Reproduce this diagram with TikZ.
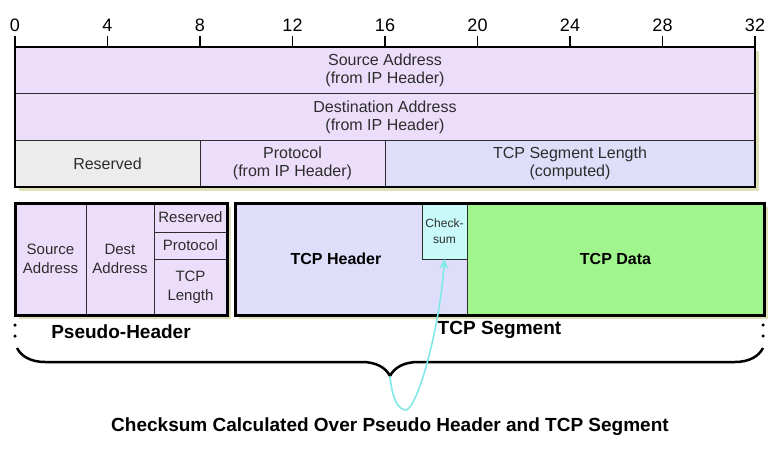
\documentclass[tikz,border=0pt]{standalone}
\usepackage{fontspec}
\setmainfont{Liberation Sans}
\usepackage{tikz}
\usetikzlibrary{arrows.meta,positioning,calc,backgrounds,decorations.pathreplacing}
\definecolor{lav}{RGB}{236,222,250}
\definecolor{resgray}{RGB}{236,236,236}
\definecolor{hdrblue}{RGB}{222,222,250}
\definecolor{sumcyan}{RGB}{200,250,250}
\definecolor{datagreen}{RGB}{160,245,140}
\definecolor{shadowcol}{RGB}{224,224,184}
\definecolor{arrcyan}{RGB}{128,232,232}
\definecolor{txt}{RGB}{45,45,45}
\tikzset{
  fld/.style={draw=txt,line width=0.9pt,fill=#1,inner sep=0pt,outer sep=0pt,anchor=north west,align=center,text=txt,font=\fontsize{16}{18}\selectfont},
  fld/.default={lav},
  fsmall/.style={font=\fontsize{15}{19}\selectfont},
  bold/.style={text=black,font=\bfseries\fontsize{16}{19}\selectfont},
  lbl/.style={text=black,font=\bfseries\fontsize{19}{22}\selectfont},
  note/.style={text=black,font=\bfseries\fontsize{19}{22}\selectfont},
  frame/.style={line width=2pt},
  bigframe/.style={line width=3pt},
  tickmark/.style={line width=1.6pt},
  num/.style={above,font=\fontsize{18}{20}\selectfont},
  dots/.style={line width=3.5pt,line cap=round,dash pattern=on 0pt off 11pt},
  arr/.style={-{Stealth[length=10pt,width=9pt]},line width=1.6pt,arrcyan},
}
\newlength{\bu}
\setlength{\bu}{23.125pt}

\begin{document}
\begin{tikzpicture}[x=1pt,y=-1pt]
 \useasboundingbox (0,0) rectangle (782,460);
 \node[fld,minimum width=32\bu,minimum height=46.7pt] (src) at (15,47) {Source Address\\(from IP Header)};
 \node[fld,minimum width=32\bu,minimum height=46.7pt] (dst) at (src.south west) {Destination Address\\(from IP Header)};
 \node[fld=resgray,minimum width=8\bu,minimum height=46.7pt] (res) at (dst.south west) {Reserved};
 \node[fld,minimum width=8\bu,minimum height=46.7pt] (proto) at (res.north east) {Protocol\\(from IP Header)};
 \node[fld=hdrblue,minimum width=16\bu,minimum height=46.7pt] (len) at (proto.north east) {TCP Segment Length\\(computed)};
 \draw[frame] (src.north west) rectangle (len.south east);
 \foreach \b in {0,4,...,32}
  \draw[tickmark] ([xshift=\b\bu]src.north west) -- ++(0,-11) node[num] (t\b) {\b};

 \node[fld,fsmall,minimum width=71pt,minimum height=112pt] (psrc) at (15,203) {Source\\Address};
 \node[fld,fsmall,minimum width=68pt,minimum height=112pt] (pdst) at (psrc.north east) {Dest\\Address};
 \node[fld,fsmall,minimum width=73pt,minimum height=29pt] (pres) at (pdst.north east) {Reserved};
 \node[fld,fsmall,minimum width=73pt,minimum height=27pt] (pproto) at (pres.south west) {Protocol};
 \node[fld,fsmall,minimum width=73pt,minimum height=56pt] (plen) at (pproto.south west) {TCP\\Length};
 \draw[bigframe] (psrc.north west) rectangle (plen.south east);

 \node[fld=hdrblue,minimum width=232pt,minimum height=112pt,label={[bold,xshift=-15pt]center:TCP Header}] (hdr) at (235,203) {};
 \node[fld=sumcyan,minimum width=45pt,minimum height=56pt,font=\fontsize{12}{16}\selectfont] (chk) at (422,203) {Check-\\sum};
 \node[fld=datagreen,bold,minimum width=297pt,minimum height=112pt] (data) at (hdr.north east) {TCP Data};
 \draw[bigframe] (hdr.north west) rectangle (data.south east);

 \begin{scope}[on background layer]
  \fill[shadowcol] ([shift={(4,4)}]src.north west) rectangle ([shift={(4,4)}]len.south east);
  \fill[shadowcol] ([shift={(4,4)}]psrc.north west) rectangle ([shift={(4,4)}]plen.south east);
  \fill[shadowcol] ([shift={(4,4)}]hdr.north west) rectangle ([shift={(4,4)}]data.south east);
 \end{scope}

 \node[lbl,anchor=north] (phlbl) at ($(psrc.south west)!.5!(plen.south east)+(0,6)$) {Pseudo-Header};
 \node[lbl,anchor=north] (seglbl) at ($(hdr.south west)!.5!(data.south east)+(0,3)$) {TCP Segment};

 \coordinate (bl) at ($(psrc.south west)+(2,33)$);
 \coordinate (br) at ($(data.south east)+(-1,33)$);
 \draw[dots] ($(psrc.south west)+(0,10)$) -- ($(psrc.south west)+(0,24)$);
 \draw[dots] ($(data.south east)+(-1,10)$) -- ($(data.south east)+(-1,24)$);
 \draw[line width=2.5pt,decorate,decoration={brace,mirror,amplitude=28pt}] (bl) -- (br);
 \coordinate (tip) at ($(bl)!.5!(br)+(0,28)$);
 \draw[arr] (tip) .. controls +(2,22) and +(-8,0) .. ($(tip)+(16,34)$) .. controls +(12,-3) and +(-5,70) .. (chk.south);

 \node[note,below=38pt of tip] (sumnote) {Checksum Calculated Over Pseudo Header and TCP Segment};
\end{tikzpicture}
\end{document}
